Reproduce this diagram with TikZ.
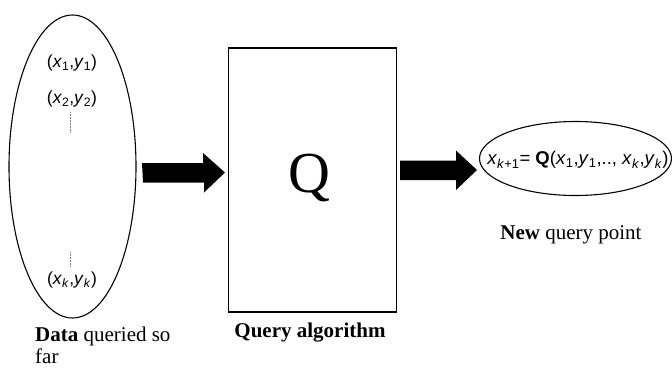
\documentclass[tikz,border=0pt]{standalone}
\usepackage{fontspec}
\setmainfont{Liberation Serif}
\newfontfamily\hv{Liberation Sans}
\usetikzlibrary{shapes.geometric}
\newcommand{\vx}[1]{\textit{x}\textsubscript{#1}}
\newcommand{\vy}[1]{\textit{y}\textsubscript{#1}}
\tikzset{
  oval/.style={draw, line width=1.1pt, ellipse, inner sep=0pt},
  pair/.style={font=\hv\fontsize{17.5}{20}\selectfont, inner sep=0pt},
  caption/.style={font=\fontsize{21}{24}\selectfont},
  vdots/.style={draw=gray, line width=0.5pt, densely dotted},
  fatarrow/.style={fill=black},
}
\begin{document}
\begin{tikzpicture}[x=1pt,y=-1pt]
\useasboundingbox (0,0) rectangle (672,368);
% data ellipse with the queried pairs
\node[oval, minimum width=127pt, minimum height=303pt] (data) at (72.5,166.5) {};
\node[pair] (p1) at (72,63) {(\vx{1},\vy{1})};
\node[pair] (p2) at (72,99) {(\vx{2},\vy{2})};
\node[pair] (pk) at (72,280) {(\vx{\textit{k}},\vy{\textit{k}})};
\coordinate (d1a) at (70,112); \coordinate (d1b) at (70,133);
\coordinate (d2a) at (70,252); \coordinate (d2b) at (70,266);
\draw[vdots] (d1a) -- (d1b);
\draw[vdots] (d2a) -- (d2b);
\node[caption, anchor=base west, inner sep=0pt] (dcap) at (35,341) {\textbf{Data} queried so};
\node[caption, anchor=base west, inner sep=0pt] (dcap2) at (35,363) {far};
% query algorithm box
\node[draw, line width=1.1pt, minimum width=168pt, minimum height=264pt] (alg) at (312.5,180) {};
\node[font=\fontsize{58}{58}\selectfont] (q) at (309,178) {Q};
\node[caption, font=\bfseries\fontsize{21}{24}\selectfont] (acap) at (310,333) {Query algorithm};
% new query point ellipse
\node[oval, minimum width=192pt, minimum height=74pt] (new) at (575.5,158.5) {};
\node[pair, font=\hv\fontsize{18.5}{20}\selectfont] (formula) at (578,160)
  {\vx{\textit{k}+1}= \textbf{Q}(\vx{1},\vy{1},.., \vx{\textit{k}},\vy{\textit{k}})};
\node[caption] (ncap) at (571,235) {\textbf{New} query point};
% thick block arrows between the stages
\coordinate (a1s) at (142,172.5); \coordinate (a1e) at (225,172.5);
\coordinate (a2s) at (400,170); \coordinate (a2e) at (477,170);
\fill[fatarrow] (a1s) ++(0,-9.5) -- ++(61,0) -- ++(0,-10) -- (a1e) -- ++(-21,20) -- ++(0,-10) -- ++(-61,0) -- cycle;
\fill[fatarrow] (a2s) ++(0,-9.5) -- ++(56,0) -- ++(0,-10) -- (a2e) -- ++(-21,20) -- ++(0,-10) -- ++(-56,0) -- cycle;
\end{tikzpicture}
\end{document}
